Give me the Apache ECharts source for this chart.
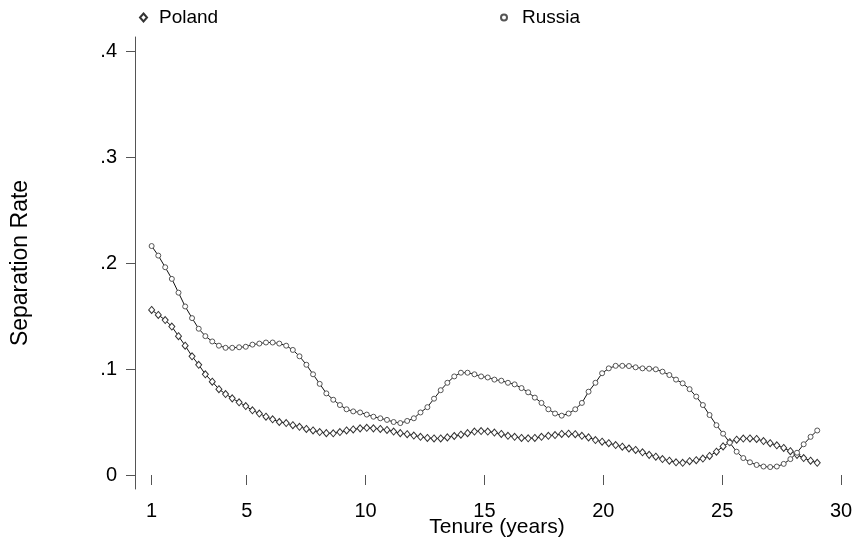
<!DOCTYPE html>
<html>
<head>
<meta charset="utf-8">
<script src="https://cdn.jsdelivr.net/npm/echarts@6/dist/echarts.min.js"></script>
<style>
html,body{margin:0;padding:0;background:#fff;}
#chart{width:861px;height:539px;}
</style>
</head>
<body>
<div id="chart"></div>
<script>
const tenure = [1.00,1.28,1.57,1.85,2.13,2.41,2.70,2.98,3.26,3.55,3.83,4.11,4.39,4.68,4.96,5.24,5.53,5.81,6.09,6.37,
6.66,6.94,7.22,7.51,7.79,8.07,8.35,8.64,8.92,9.20,9.48,9.77,10.05,10.33,10.62,10.90,11.18,11.46,11.75,12.03,
12.31,12.60,12.88,13.16,13.44,13.73,14.01,14.29,14.58,14.86,15.14,15.42,15.71,15.99,16.27,16.56,16.84,17.12,17.40,17.69,
17.97,18.25,18.54,18.82,19.10,19.38,19.67,19.95,20.23,20.52,20.80,21.08,21.36,21.65,21.93,22.21,22.49,22.78,23.06,23.34,
23.63,23.91,24.19,24.47,24.76,25.04,25.32,25.61,25.89,26.17,26.45,26.74,27.02,27.30,27.59,27.87,28.15,28.43,28.72,29.00];

const poland = [.1557,.151,.1462,.140,.131,.122,.112,.104,.095,.088,
.081,.0764,.0723,.0686,.065,.061,.058,.055,.0525,.050,
.049,.047,.0455,.0435,.042,.0405,.0395,.0393,.0405,.042,
.043,.044,.0445,.044,.0435,.0425,.041,.0395,.0385,.0372,
.036,.035,.0345,.0345,.0355,.0368,.038,.0395,.041,.0415,
.041,.040,.0387,.037,.036,.035,.0346,.035,.036,.037,
.0377,.0387,.039,.0385,.037,.0355,.033,.0314,.030,.0283,
.0267,.025,.0236,.0214,.019,.0173,.015,.0135,.012,.0115,
.013,.014,.0155,.018,.022,.027,.031,.0333,.0344,.0345,
.034,.032,.030,.028,.0255,.0225,.019,.016,.0135,.0115];

const russia = [.216,.207,.196,.185,.172,.159,.148,.138,.131,.126,
.122,.120,.120,.1205,.121,.123,.124,.125,.125,.124,
.122,.118,.112,.104,.095,.086,.077,.071,.066,.062,
.060,.059,.057,.055,.0535,.052,.050,.049,.051,.0535,
.059,.064,.072,.080,.087,.093,.0965,.0965,.095,.093,
.092,.090,.089,.087,.0855,.082,.078,.073,.068,.062,
.058,.056,.058,.062,.068,.0786,.087,.096,.1006,.103,
.103,.1028,.1016,.1006,.1003,.0997,.0975,.0943,.090,.0865,
.081,.074,.066,.0566,.047,.039,.0305,.022,.016,.012,
.0095,.008,.0075,.008,.0105,.015,.021,.029,.036,.042];

const xTicks = [1,5,10,15,20,25,30];
const yTicks = [0,0.1,0.2,0.3,0.4];
const seriesNames = ['Poland','Russia'];

const FONT = 'Liberation Sans, Arial, sans-serif';
const chart = echarts.init(document.getElementById('chart'), null, {renderer:'canvas'});

const pair = (ys) => tenure.map((x,i) => [x, ys[i]]);

chart.setOption({
  animation:false,
  backgroundColor:'#fff',
  grid:{left:135, right:20, top:37, bottom:50, containLabel:false, outerBoundsMode:'none'},
  legend:[
    {data:[{name:seriesNames[0], icon:'diamond'}], left:134, top:3, itemWidth:7, itemHeight:8,
     textStyle:{fontFamily:FONT, fontSize:19, color:'#000', padding:[0,0,0,7]}},
    {data:[{name:seriesNames[1], icon:'circle'}], left:495, top:3, itemWidth:6, itemHeight:6,
     textStyle:{fontFamily:FONT, fontSize:19, color:'#000', padding:[0,0,0,10]}}
  ],
  xAxis:{
    type:'value', min:0.3, max:30,
    axisLine:{show:false},
    splitLine:{show:false},
    axisTick:{show:true, length:10, inside:false, customValues:xTicks, lineStyle:{color:'#555', width:1}},
    axisLabel:{customValues:xTicks, margin:12, fontFamily:FONT, fontSize:20, color:'#000'},
    name:'Tenure (years)', nameLocation:'middle', nameGap:28, nameMoveOverlap:false,
    nameTextStyle:{fontFamily:FONT, fontSize:21, color:'#000', padding:[0,0,0,18]}
  },
  yAxis:{
    type:'value', min:-0.0132, max:0.4132,
    axisLine:{show:true, lineStyle:{color:'#555', width:1}},
    splitLine:{show:false},
    axisTick:{show:true, length:9, customValues:yTicks, lineStyle:{color:'#555', width:1}},
    axisLabel:{customValues:yTicks, margin:18, fontFamily:FONT, fontSize:20, color:'#000',
      formatter:(v)=> v===0 ? '0' : String(Math.round(v*10)/10).replace(/^0\./,'.')},
    name:'Separation Rate', nameLocation:'middle', nameGap:103, nameRotate:90, nameMoveOverlap:false,
    nameTextStyle:{fontFamily:FONT, fontSize:23, color:'#000'}
  },
  series:[
    {name:seriesNames[0], type:'line', data:pair(poland), symbol:'diamond', symbolSize:[6,7],
     showSymbol:true, showAllSymbol:true,
     lineStyle:{color:'#111', width:1},
     itemStyle:{color:'#fff', borderColor:'#333', borderWidth:1}},
    {name:seriesNames[1], type:'line', data:pair(russia), symbol:'circle', symbolSize:5,
     showSymbol:true, showAllSymbol:true,
     lineStyle:{color:'#111', width:1},
     itemStyle:{color:'#fff', borderColor:'#555', borderWidth:1}}
  ]
});
</script>
</body>
</html>
